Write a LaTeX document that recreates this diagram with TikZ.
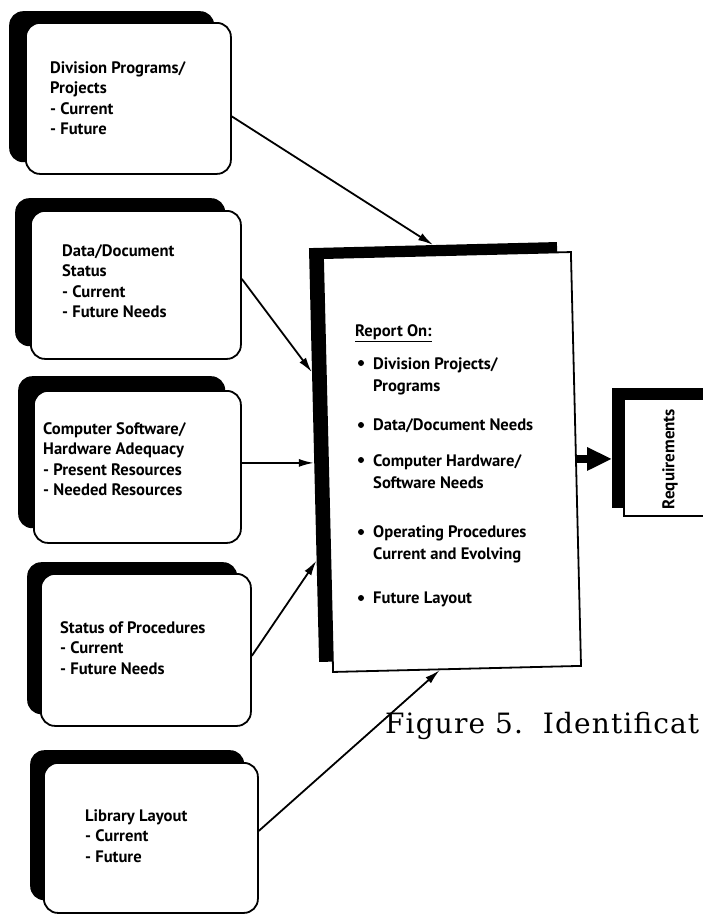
\documentclass[tikz,border=0pt]{standalone}
\usepackage{fontspec}
\newfontfamily\boxfont{PT Sans}
\newfontfamily\capfont[LetterSpace=4]{DejaVu Serif}
\usetikzlibrary{arrows.meta,calc}

\begin{document}
\begin{tikzpicture}[x=1pt,y=-1pt,
  face/.style={draw, line width=1.8pt, fill=white, rounded corners=14pt,
    anchor=north west, inner sep=0pt},
  shade/.style={fill=black, rounded corners=14pt, anchor=north west, inner sep=0pt},
  label/.style={anchor=north west, align=left, inner sep=0pt,
    font=\boxfont\bfseries\fontsize{16.6}{20.5}\selectfont},
  item/.style={anchor=north west, align=left, inner sep=0pt,
    font=\boxfont\bfseries\fontsize{16.6}{22}\selectfont},
  feed/.style={line width=1.8pt, -{Latex[length=15pt,width=8pt]}},
  sheet/.style={draw, line width=1.8pt, fill=white, inner sep=0pt, rotate=1.4,
    minimum width=248pt, minimum height=414pt},
  sheetshade/.style={fill=black, inner sep=0pt, rotate=1.4,
    minimum width=248pt, minimum height=414pt}
]
\useasboundingbox (0,0) rectangle (703,916);

% ---- input boxes (shadow first, then the face) ----
\node[shade, minimum width=205pt, minimum height=151pt] (b1s) at (9,11) {};
\node[face,  minimum width=205pt, minimum height=151pt] (b1) at (25,22) {};
\node[label] (t1) at (50,61) {Division Programs/\\Projects\\- Current\\- Future};

\node[shade, minimum width=210pt, minimum height=148pt] (b2s) at (15,198) {};
\node[face,  minimum width=210pt, minimum height=148pt] (b2) at (30,210) {};
\node[label] (t2) at (62,244) {Data/Document\\Status\\- Current\\- Future Needs};

\node[shade, minimum width=207pt, minimum height=152pt] (b3s) at (18,376) {};
\node[face,  minimum width=207pt, minimum height=152pt] (b3) at (33,390) {};
\node[label] (t3) at (43,422) {Computer Software/\\Hardware Adequacy\\- Present Resources\\- Needed Resources};

\node[shade, minimum width=210pt, minimum height=152pt] (b4s) at (27,562) {};
\node[face,  minimum width=210pt, minimum height=152pt] (b4) at (40,573) {};
\node[label] (t4) at (60,621) {Status of Procedures\\- Current\\- Future Needs};

\node[shade, minimum width=214pt, minimum height=150pt] (b5s) at (30,750) {};
\node[face,  minimum width=214pt, minimum height=150pt] (b5) at (43,762) {};
\node[label] (t5) at (85,809) {Library Layout\\- Current\\- Future};

% ---- report sheet ----
\node[sheetshade] (repsh) at (438,452) {};
\node[sheet] (rep) at (452,462) {};

\node[item] (h0) at (355,324) {\underline{Report On:}};
\node[item] (r1) at (373,357) {Division Projects/\\Programs};
\node[item] (r2) at (373,418) {Data/Document Needs};
\node[item] (r3) at (373,454) {Computer Hardware/\\Software Needs};
\node[item] (r4) at (373,525) {Operating Procedures\\Current and Evolving};
\node[item] (r5) at (373,592) {Future Layout};
\foreach \yy in {363,425,460,532,598} \fill (361,\yy) circle (3pt);

% ---- requirements sheet ----
\node[fill=black, inner sep=0pt, anchor=north west,
      minimum width=110pt, minimum height=120pt] (reqsh) at (612,388) {};
\node[draw, line width=1.8pt, fill=white, inner sep=0pt, anchor=north west,
      minimum width=110pt, minimum height=117pt] (req) at (623,398) {};
\node[rotate=90, inner sep=0pt, font=\boxfont\bfseries\fontsize{17}{20}\selectfont]
      (reqt) at (670,459) {Requirements};

% ---- connectors ----
\draw[feed] ([yshift=-18pt]b1.east) -- (repsh.north);
\draw[feed] ([yshift=6pt]b2.east) -- ($(repsh.north west)!0.3!(repsh.south west)$);
\draw[feed] ([yshift=4pt]b3.east) -- ([yshift=4pt]b3.east -| repsh.west);
\draw[feed] ([yshift=-6pt]b4.east) -- ($(repsh.north west)!0.755!(repsh.south west)$);
\draw[feed] ([yshift=7pt]b5.east) -- ($(rep.south west)!0.43!(rep.south east)$);
\draw[line width=8pt, -{Triangle[length=25pt,width=22pt]}]
      (rep.east) -- (rep.east -| reqsh.west);

% ---- caption ----
\node[anchor=west, inner sep=0pt, font=\capfont\fontsize{28}{32}\selectfont] (cap)
      at (385,726) {Figure 5.\ \ Identificat};
\end{tikzpicture}
\end{document}
